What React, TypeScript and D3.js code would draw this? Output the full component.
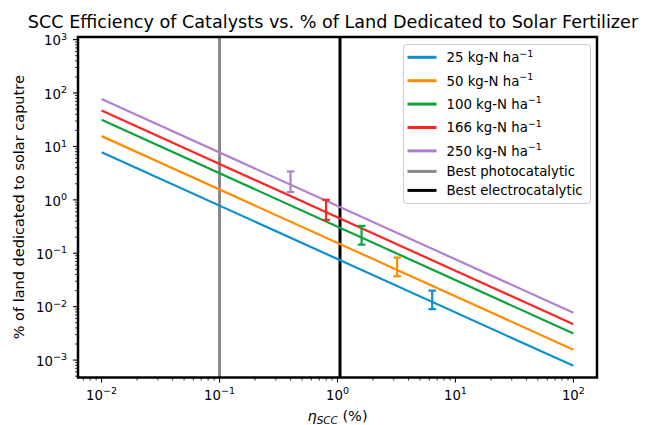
import { useRef, useEffect } from "react";
import * as d3 from "d3";

// nitrogen demand series (kg-N ha^-1)
const rates = ["25", "50", "100", "166", "250"];
const colors = ["#0e8fcf", "#ff8c00", "#0ca33a", "#ff2525", "#b07fd0"];
const lineX = [0.01, 100];
const lineYStart = [7.8, 15.6, 31.5, 47, 77];
const lineYEnd = [0.00078, 0.00156, 0.00315, 0.0047, 0.0077];

// measured points with error bars
const barX = [6.35, 3.2, 1.6, 0.8, 0.4];
const barY = [0.0145, 0.06, 0.235, 0.71, 2.4];
const barErr = [0.0055, 0.023, 0.09, 0.29, 1.0];

// reference catalysts
const refNames = ["Best photocatalytic", "Best electrocatalytic"];
const refX = [0.1, 1.05];
const refColors = ["#888888", "#000000"];

const xExponents = [-2, -1, 0, 1, 2];
const yExponents = [-3, -2, -1, 0, 1, 2, 3];

const W = 652;
const H = 425;
const FONT = "DejaVu Sans, sans-serif";

function minorTicks(domain: number[]) {
  const out: number[] = [];
  const lo = Math.floor(Math.log10(domain[0]));
  const hi = Math.ceil(Math.log10(domain[1]));
  for (let d = lo; d <= hi; d++) {
    for (let m = 2; m <= 9; m++) {
      const v = m * Math.pow(10, d);
      if (v >= domain[0] && v <= domain[1]) out.push(v);
    }
  }
  return out;
}

function powLabel(sel: any, exp: number, size: number) {
  sel.append("tspan").text("10");
  sel.append("tspan")
    .attr("dy", -size * 0.42)
    .style("font-size", `${size * 0.72}px`)
    .text(exp < 0 ? `\u2212${-exp}` : `${exp}`);
}

function Chart() {
  const svgRef = useRef<SVGSVGElement>(null);

  useEffect(() => {
    if (!svgRef.current) return;
    const svg = d3.select(svgRef.current);
    svg.selectAll("*").remove();

    const m = { left: 78, right: 597, top: 37, bottom: 377.5 };
    const xDomain = [Math.pow(10, -2.2), Math.pow(10, 2.2)];
    const yDomain = [Math.pow(10, -3.326), Math.pow(10, 3.049)];
    const x = d3.scaleLog().domain(xDomain).range([m.left, m.right]);
    const y = d3.scaleLog().domain(yDomain).range([m.bottom, m.top]);
    const fs = 13.3;
    const labelFs = 14.5;

    svg.append("rect").attr("width", W).attr("height", H).attr("fill", "#fff");

    // reference vertical lines
    refX.forEach((v, i) => {
      svg.append("line")
        .attr("x1", x(v)).attr("x2", x(v))
        .attr("y1", m.top).attr("y2", m.bottom)
        .attr("stroke", refColors[i]).attr("stroke-width", 3);
    });

    // series lines
    const line = d3.line<[number, number]>().x((d) => x(d[0])).y((d) => y(d[1]));
    rates.forEach((_r, i) => {
      const pts: [number, number][] = [[lineX[0], lineYStart[i]], [lineX[1], lineYEnd[i]]];
      svg.append("path")
        .attr("d", line(pts))
        .attr("fill", "none")
        .attr("stroke", colors[i])
        .attr("stroke-width", 2.2);
    });

    // error bars
    rates.forEach((_r, i) => {
      const cx = x(barX[i]);
      const y0 = y(barY[i] - barErr[i]);
      const y1 = y(barY[i] + barErr[i]);
      const g = svg.append("g").attr("stroke", colors[i]).attr("stroke-width", 2.2);
      g.append("line").attr("x1", cx).attr("x2", cx).attr("y1", y0).attr("y2", y1);
      [y0, y1].forEach((yy) => {
        g.append("line").attr("x1", cx - 3.8).attr("x2", cx + 3.8).attr("y1", yy).attr("y2", yy);
      });
    });

    // ticks
    const tk = svg.append("g").attr("stroke", "#000");
    xExponents.forEach((e) => {
      const px = x(Math.pow(10, e));
      tk.append("line").attr("x1", px).attr("x2", px).attr("y1", m.bottom).attr("y2", m.bottom + 5).attr("stroke-width", 1.1);
      const t = svg.append("text")
        .attr("x", px).attr("y", 400)
        .attr("text-anchor", "middle")
        .style("font-family", FONT).style("font-size", `${fs}px`);
      powLabel(t, e, fs);
    });
    minorTicks(xDomain).forEach((v) => {
      tk.append("line").attr("x1", x(v)).attr("x2", x(v)).attr("y1", m.bottom).attr("y2", m.bottom + 3).attr("stroke-width", 0.8);
    });
    yExponents.forEach((e) => {
      const py = y(Math.pow(10, e));
      tk.append("line").attr("x1", m.left - 5).attr("x2", m.left).attr("y1", py).attr("y2", py).attr("stroke-width", 1.1);
      const t = svg.append("text")
        .attr("x", 67).attr("y", py + 5.8)
        .attr("text-anchor", "end")
        .style("font-family", FONT).style("font-size", `${fs}px`);
      powLabel(t, e, fs);
    });
    minorTicks(yDomain).forEach((v) => {
      tk.append("line").attr("x1", m.left - 3).attr("x2", m.left).attr("y1", y(v)).attr("y2", y(v)).attr("stroke-width", 0.8);
    });

    // frame
    svg.append("rect")
      .attr("x", m.left).attr("y", m.top)
      .attr("width", m.right - m.left).attr("height", m.bottom - m.top)
      .attr("fill", "none").attr("stroke", "#000").attr("stroke-width", 2.5);

    // title
    svg.append("text")
      .attr("x", 333).attr("y", 27.5)
      .attr("text-anchor", "middle")
      .style("font-family", FONT).style("font-size", "17.6px")
      .text("SCC Efficiency of Catalysts vs. % of Land Dedicated to Solar Fertilizer");

    // axis labels
    svg.append("text")
      .attr("transform", `translate(23.5,${(m.top + m.bottom) / 2}) rotate(-90)`)
      .attr("text-anchor", "middle")
      .style("font-family", FONT).style("font-size", `${labelFs}px`)
      .text("% of land dedicated to solar caputre");

    const xl = svg.append("text")
      .attr("x", (m.left + m.right) / 2).attr("y", 420.5)
      .attr("text-anchor", "middle")
      .style("font-family", FONT).style("font-size", `${labelFs}px`);
    xl.append("tspan").style("font-style", "italic").text("\u03b7");
    xl.append("tspan").attr("dy", 3).style("font-style", "italic").style("font-size", `${labelFs * 0.72}px`).text("SCC");
    xl.append("tspan").attr("dy", -3).text(" (%)");

    // legend
    const lg = svg.append("g");
    lg.append("rect")
      .attr("x", 403.5).attr("y", 44.5).attr("width", 187).attr("height", 159)
      .attr("rx", 3)
      .attr("fill", "#fff").attr("fill-opacity", 0.8)
      .attr("stroke", "#cccccc").attr("stroke-width", 1);
    const entries = [
      ...rates.map((r, i) => ({ label: `${r} kg-N ha`, sup: true, color: colors[i] })),
      ...refNames.map((n, i) => ({ label: n, sup: false, color: refColors[i] })),
    ];
    let rowY = 57.3;
    entries.forEach((en, i) => {
      if (i > 0) rowY += en.sup ? 23.4 : (entries[i - 1].sup ? 20.5 : 19);
      lg.append("line")
        .attr("x1", 407.5).attr("x2", 436.5).attr("y1", rowY).attr("y2", rowY)
        .attr("stroke", en.color).attr("stroke-width", 3);
      const t = lg.append("text")
        .attr("x", 446.5).attr("y", rowY + 4.8)
        .style("font-family", FONT).style("font-size", `${fs}px`);
      t.append("tspan").text(en.label);
      if (en.sup) {
        t.append("tspan").attr("dy", -fs * 0.42).style("font-size", `${fs * 0.72}px`).text("\u22121");
      }
    });
  }, []);

  return <svg ref={svgRef} width={W} height={H} style={{ position: "absolute", left: 0, top: 0 }} />;
}

export default function App() {
  return <Chart />;
}
